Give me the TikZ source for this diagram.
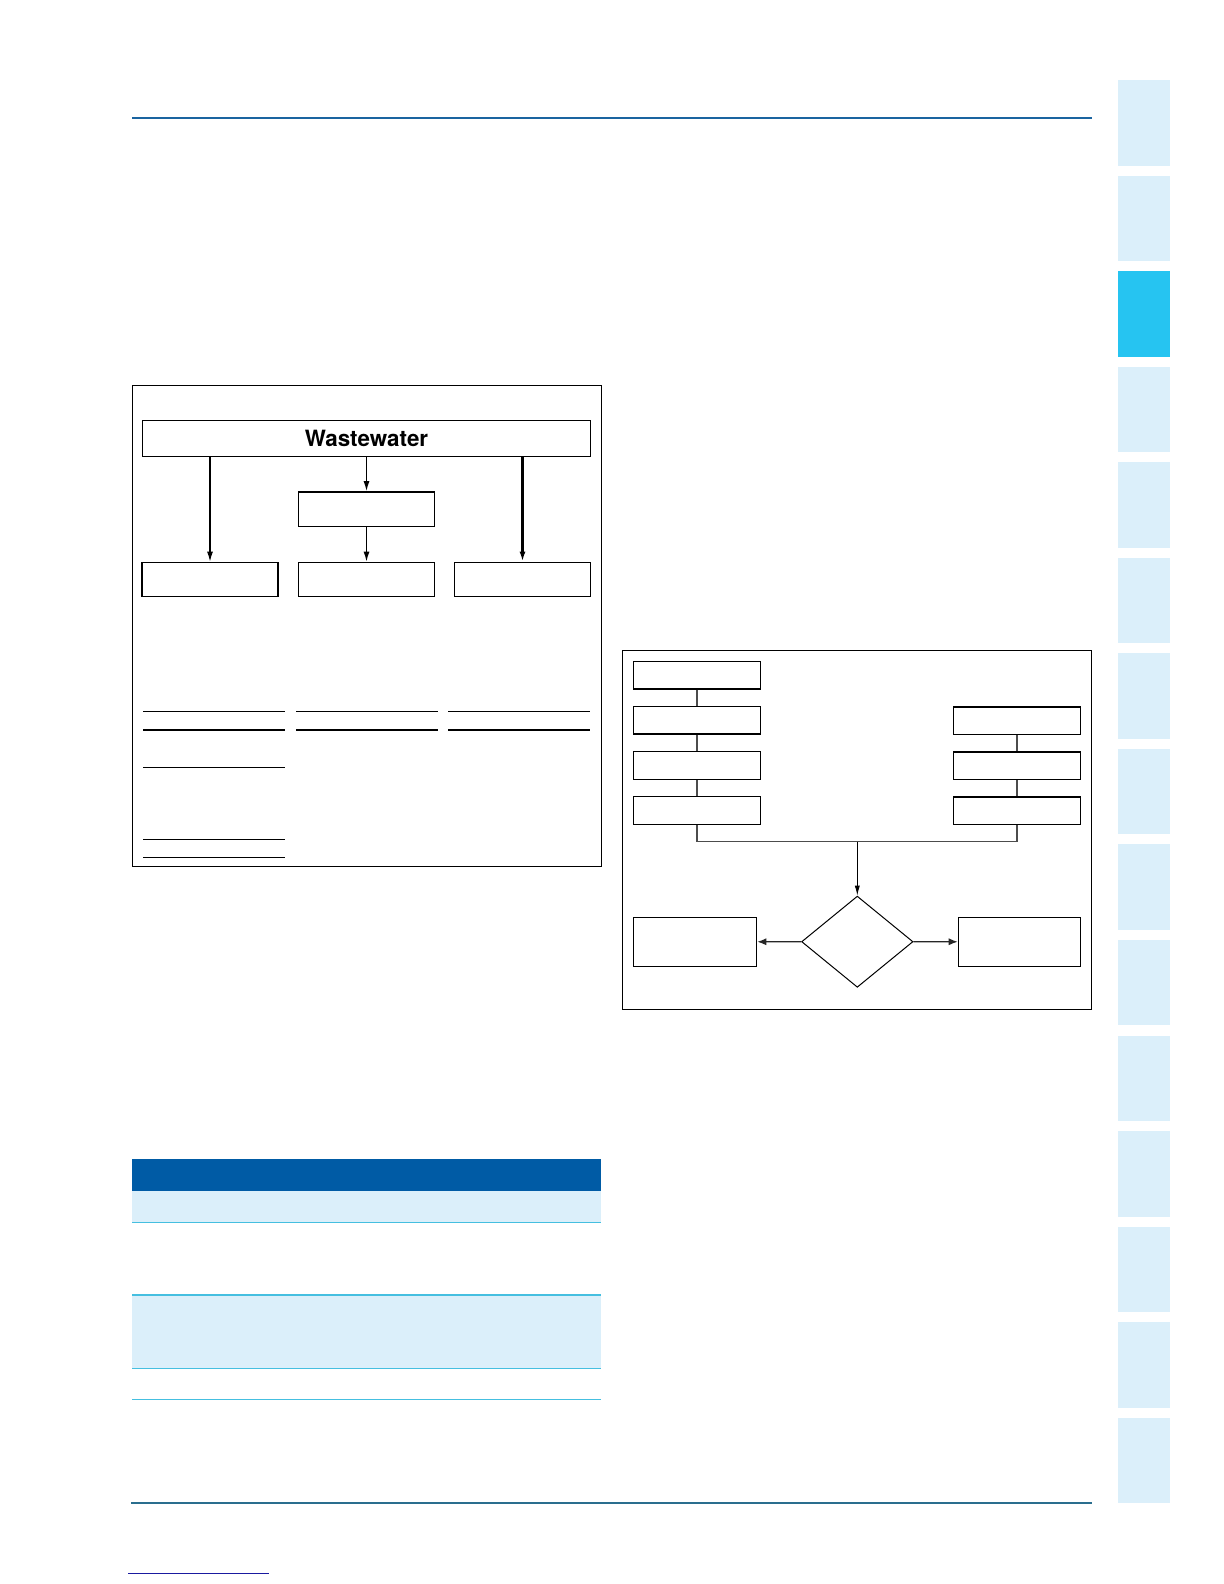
\documentclass[tikz,border=0pt]{standalone}
\usepackage{fontspec}
\setmainfont{TeX Gyre Heros}
\usetikzlibrary{arrows.meta,shapes.geometric,positioning}

\definecolor{rulecol}{HTML}{1A64A0}
\definecolor{footcol}{HTML}{2A6E8E}
\definecolor{tablight}{HTML}{DBEFFA}
\definecolor{tabbright}{HTML}{26C4F1}
\definecolor{headblue}{HTML}{005BA5}
\definecolor{rowcyan}{HTML}{45BFE0}
\definecolor{linkcol}{HTML}{1A1AA0}

\begin{document}
\begin{tikzpicture}
  [x=0.5pt,y=-0.5pt,
 wbox/.style={
  rectangle,
  draw=black,
  line width=0.7pt, % border
  inner sep=0pt,
  minimum width=224.2pt,
  minimum height=18pt,
  font=\fontsize{11.2}{13}\selectfont\bfseries},
 cbox/.style={
  rectangle,
  draw=black,
  line width=0.7pt,
  inner sep=0pt,
  minimum width=68pt,
  minimum height=17.2pt},
 sbox/.style={
  rectangle,
  draw=black,
  line width=0.65pt,
  inner sep=0pt,
  minimum width=63.2pt,
  minimum height=13.8pt},
 obox/.style={
  rectangle,
  draw=black,
  line width=0.65pt,
  inner sep=0pt,
  minimum height=24.5pt},
 decide/.style={
  diamond,
  draw=black,
  line width=0.5pt,
  inner sep=0pt,
  minimum width=55.7pt,
  minimum height=45.6pt},
 arr/.style={-{Latex[length=5pt,width=3pt]},line width=0.6pt},
 link/.style={draw=black!70,line width=0.6pt},
 tip/.style={-{Latex[length=4.5pt,width=3.6pt]}},
 node distance=8.1pt]

\useasboundingbox[fill=white] (0,0) rectangle (1224,1584);

% page rules and side tabs
\draw[rulecol,line width=0.8pt] (132,118.3) -- (1092,118.3);
\draw[footcol,line width=0.8pt] (131,1502.7) -- (1092,1502.7);
\draw[linkcol,line width=0.6pt] (128.3,1573.4) -- (268.6,1573.4);
\foreach \i in {0,...,14}
  \fill[tablight] (1118,{80+\i*95.55}) rectangle (1170.3,{165.5+\i*95.55});
\fill[tabbright] (1118,271.1) rectangle (1170.3,356.6);

% left figure
\draw[line width=0.5pt] (132.3,385) rectangle (601.7,866.7);
\node (ww) [wbox] at (366.5,438.3) {Wastewater};
\node (mid) [cbox] at (366.5,509) {};
\node (lbox) [cbox] at (210,579.5) {};
\node (cbox) [cbox] at (366.5,579.5) {};
\node (rbox) [cbox] at (522.5,579.5) {};
\path (ww.south -| lbox) edge[arr] (lbox);
\path (ww) edge[arr] (mid);
\path (mid) edge[arr] (cbox);
\path (ww.south -| rbox) edge[arr,line width=1.1pt] (rbox);

% empty table rules under the boxes
\foreach \xa/\xb in {143/285,296/437.7,448.3/590}{
  \draw[line width=0.5pt] (\xa,711.3) -- (\xb,711.3);
  \draw[line width=1.1pt] (\xa,730) -- (\xb,730);
}
\draw[line width=0.5pt] (143,767.3) -- (285,767.3);
\draw[line width=0.5pt] (143,839.3) -- (285,839.3);
\draw[line width=0.5pt] (143,857.3) -- (285,857.3);

% flowchart
\draw[line width=0.5pt] (622.3,650) rectangle (1091.7,1009.3);
\node (f1) [sbox] at (697,675.2) {};
\node (f2) [sbox,below=of f1] {};
\node (f3) [sbox,below=of f2] {};
\node (f4) [sbox,below=of f3] {};
\node (g1) [sbox] at (1017,720.7) {};
\node (g2) [sbox,below=of g1] {};
\node (g3) [sbox,below=of g2] {};
\coordinate (merge) at (857.3,841.7);
\node (dia) [decide] at (857.3,941.7) {};
\node (lout) [obox,minimum width=61.7pt] at (695,941.8) {};
\node (rout) [obox,minimum width=61.2pt] at (1019.5,941.8) {};
\path (f1) edge[link] (f2);
\path (f2) edge[link] (f3);
\path (f3) edge[link] (f4);
\path (g1) edge[link] (g2);
\path (g2) edge[link] (g3);
\draw[link] (f4) |- (merge);
\draw[link] (g3) |- (merge);
\path (merge) edge[-{Latex[length=5pt,width=2.6pt]},line width=0.5pt] (dia);
\path (dia) edge[tip,link,draw=black!85] (lout);
\path (dia) edge[tip,link,draw=black!85] (rout);

% table
\fill[headblue] (132.3,1159) rectangle (601,1190.7);
\fill[tablight] (132.3,1190.7) rectangle (601,1222.3);
\fill[tablight] (132.3,1295) rectangle (601,1368.3);
\foreach \y in {1222.3,1295,1368.3,1399.5}
  \draw[rowcyan,line width=0.6pt] (132.3,\y) -- (601,\y);
\end{tikzpicture}
\end{document}
